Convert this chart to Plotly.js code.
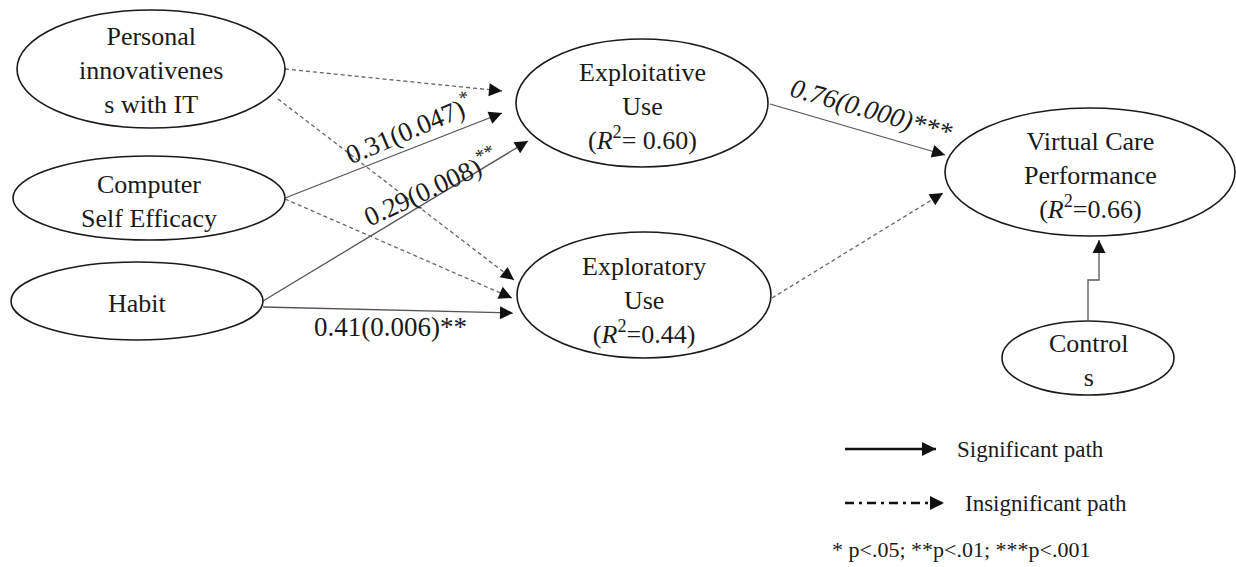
<!DOCTYPE html>
<html><head><meta charset="utf-8">
<script src="https://cdn.plot.ly/plotly-3.0.1.min.js"></script>
<style>html,body{margin:0;padding:0;background:#fff}</style>
</head><body><div id="chart" style="width:1236px;height:567px"></div>
<script>
// ---- data: constructs ----
const nodeNames = ['PI','CSE','HAB','EXPLOIT','EXPLORE','VCP','CTRL'];
const nodeLabels = ['Personal<br>innovativenes<br>s with IT','Computer<br>Self Efficacy','Habit',
  'Exploitative<br>Use<br>(<i>R</i><sup>2</sup>= 0.60)','Exploratory<br>Use<br>(<i>R</i><sup>2</sup>=0.44)',
  'Virtual Care<br>Performance<br>(<i>R</i><sup>2</sup>=0.66)','Control<br>s'];
// ---- data: paths ----
const pathFrom = ['PI','PI','CSE','CSE','HAB','HAB','EXPLOIT','EXPLORE','CTRL'];
const pathTo   = ['EXPLOIT','EXPLORE','EXPLOIT','EXPLORE','EXPLOIT','EXPLORE','VCP','VCP','VCP'];
const pathSig  = [false,false,true,false,true,true,true,false,true];
const pathCoef = [null,null,'0.31',null,'0.29','0.41','0.76',null,null];
const pathP    = [null,null,'0.047',null,'0.008','0.006','0.000',null,null];
const pathStars= [null,null,'*',null,'**','**','***',null,null];
const legendLabels = ['Significant path','Insignificant path'];
const noteText = '* p&lt;.05; **p&lt;.01; ***p&lt;.001';

// ---- layout geometry (pixels) ----
const nodeCx = [151,149,137,642,644,1090,1088];
const nodeCy = [69,198,301,103,295,172,358];
const nodeRx = [134,136,126,126,127,145,86];
const nodeRy = [59,42,39,64,63,64,37];
const nodeTextY = [70,201,303,106,300,175,360];
const pathXs = [[285,502],[278,514],[285,502],[285,512],[263,528],[263,513],[770,945],[772,943],[1088,1088,1099,1099]];
const pathYs = [[69,91],[99,280],[198,113],[199,298],[301,141],[307,313],[104,155],[298,193],[320,280,280,240]];
const coefX = [null,null,408,null,430,390,871,null,null];
const coefY = [null,null,128,null,186,327,110,null,null];
const coefAngle = [null,null,-23,null,-25,0,16,null,null];
const coefSupStars = [null,null,true,null,true,false,false,null,null];
const coefItalic = [null,null,false,null,false,false,true,null,null];

const FONT = 'Liberation Serif, Times New Roman, serif';
const traces = [];
const annotations = [];
const shapes = [];

function arrowHead(xs, ys, w, sz){
  const n = xs.length;
  const dx = xs[n-1]-xs[n-2], dy = ys[n-1]-ys[n-2];
  const L = Math.hypot(dx,dy);
  return {x:xs[n-1], y:ys[n-1], ax:xs[n-1]-6*dx/L, ay:ys[n-1]-6*dy/L, xref:'x', yref:'y', axref:'x', ayref:'y',
    text:'', showarrow:true, arrowhead:2, arrowsize:sz, arrowwidth:w, arrowcolor:'#111', standoff:0, startstandoff:0};
}

pathXs.forEach((xs,i)=>{
  const ys = pathYs[i];
  traces.push({
    type:'scatter', mode:'lines', x:xs, y:ys, hoverinfo:'skip', showlegend:false,
    line:{color: pathSig[i] ? '#555' : '#666', width:1.3, dash: pathSig[i]?'solid':'4px,3px'}
  });
  annotations.push(arrowHead(xs, ys, 1.3, 2.0));
  if (pathCoef[i]) {
    let t = pathCoef[i]+'('+pathP[i]+')';
    t += coefSupStars[i] ? '<sup>'+pathStars[i]+'</sup>' : pathStars[i];
    if (coefItalic[i]) t = '<i>'+t+'</i>';
    annotations.push({x:coefX[i], y:coefY[i], xref:'x', yref:'y', showarrow:false,
      text: t, textangle: coefAngle[i],
      font:{family:FONT, size:27, color:'#1a1a1a'}});
  }
});

nodeNames.forEach((nm,i)=>{
  shapes.push({type:'circle', xref:'x', yref:'y', x0:nodeCx[i]-nodeRx[i], x1:nodeCx[i]+nodeRx[i],
    y0:nodeCy[i]-nodeRy[i], y1:nodeCy[i]+nodeRy[i], line:{color:'#1a1a1a', width:1.6}, fillcolor:'rgba(0,0,0,0)'});
  annotations.push({x:nodeCx[i], y:nodeTextY[i], xref:'x', yref:'y', showarrow:false, text:nodeLabels[i],
    font:{family:FONT, size:26, color:'#1a1a1a'}, align:'center'});
});

// legend
const legX = [[845,936],[845,944]];
const legY = [449,503];
const legTextX = [955,963];
legendLabels.forEach((lab,i)=>{
  traces.push({type:'scatter', mode:'lines', x:legX[i], y:[legY[i],legY[i]], hoverinfo:'skip', showlegend:false,
    line:{color:'#111', width:2.6, dash: i===0?'solid':'9px,5px,3px,5px'}});
  annotations.push(arrowHead(legX[i], [legY[i],legY[i]], 1.4, 2.0));
  annotations.push({x:legTextX[i], y:legY[i], xref:'x', yref:'y', showarrow:false, xanchor:'left', text:lab,
    font:{family:FONT, size:23, color:'#1a1a1a'}});
});
annotations.push({x:830, y:549, xref:'x', yref:'y', showarrow:false, xanchor:'left', text:noteText,
  font:{family:FONT, size:22, color:'#1a1a1a'}});

Plotly.newPlot('chart', traces, {
  width:1236, height:567, margin:{l:0,r:0,t:0,b:0},
  paper_bgcolor:'#fff', plot_bgcolor:'#fff',
  xaxis:{range:[0,1236], visible:false, fixedrange:true},
  yaxis:{range:[567,0], visible:false, fixedrange:true},
  shapes:shapes, annotations:annotations, showlegend:false
}, {staticPlot:true, displayModeBar:false});
</script></body></html>
